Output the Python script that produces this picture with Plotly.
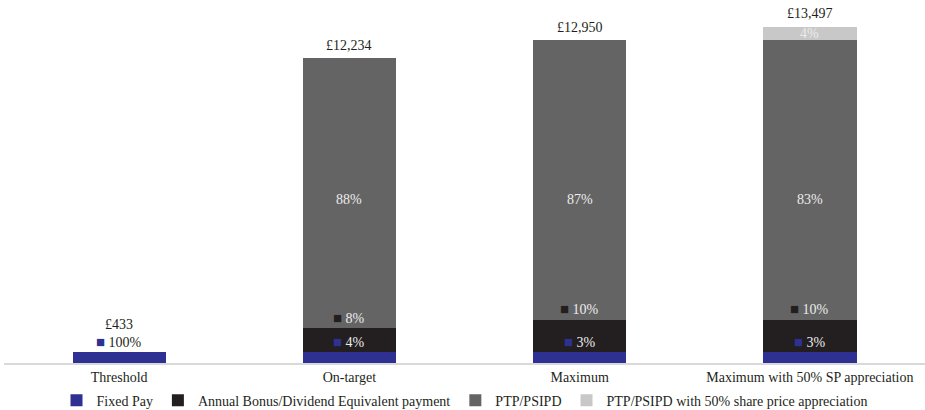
import plotly.graph_objects as go

categories = ["Threshold", "On-target", "Maximum", "Maximum with 50% SP appreciation"]
fixed_pay = [433, 433, 433, 433]
annual_bonus = [0, 979, 1295, 1295]
ptp = [0, 10822, 11222, 11222]
ptp_share = [0, 0, 0, 547]
totals = ["£433", "£12,234", "£12,950", "£13,497"]

fixed_pct = ["100%", "4%", "3%", "3%"]
bonus_pct = [None, "8%", "10%", "10%"]
ptp_pct = [None, "88%", "87%", "83%"]
share_pct = [None, None, None, "4%"]

series_names = ["Fixed Pay", "Annual Bonus/Dividend Equivalent payment", "PTP/PSIPD",
                "PTP/PSIPD with 50% share price appreciation"]
colors = ["#2e3192", "#231f20", "#646464", "#c8c8c8"]
FONT = "Liberation Serif"

fig = go.Figure()
for name, vals, col in zip(series_names, [fixed_pay, annual_bonus, ptp, ptp_share], colors):
    fig.add_trace(go.Bar(x=categories, y=vals, name=name, marker_color=col,
                         marker_line_width=0, width=0.405))

LIGHT = "#ececec"
ann = []
def sq(col):
    return f"<span style='color:{col};font-size:15px'>■</span> "

for i, c in enumerate(categories):
    tot_val = fixed_pay[i] + annual_bonus[i] + ptp[i] + ptp_share[i]
    base_bonus = fixed_pay[i]
    base_ptp = fixed_pay[i] + annual_bonus[i]
    ann.append(dict(x=c, y=base_bonus, yshift=10, text=sq(colors[0]) + fixed_pct[i],
                    font=dict(color="#231f20" if i == 0 else LIGHT, size=14)))
    if bonus_pct[i]:
        ann.append(dict(x=c, y=base_ptp, yshift=10 if i == 1 else 11,
                        text=sq(colors[1]) + bonus_pct[i], font=dict(color=LIGHT, size=14)))
    if ptp_pct[i]:
        ann.append(dict(x=c, y=6540, text=ptp_pct[i], font=dict(color=LIGHT, size=14)))
    if share_pct[i]:
        ann.append(dict(x=c, y=base_ptp + ptp[i] + ptp_share[i] / 2, text=share_pct[i],
                        font=dict(color=LIGHT, size=14)))
    ann.append(dict(x=c, y=tot_val, yshift=28 if i == 0 else 13, text=totals[i],
                    font=dict(color="#231f20", size=14)))

for a in ann:
    a.update(xref="x", yref="y", showarrow=False, yanchor="middle")
    a["font"]["family"] = FONT

fig.update_layout(
    barmode="stack",
    width=925, height=410,
    margin=dict(l=4, r=0, t=14, b=47, autoexpand=False),
    paper_bgcolor="white", plot_bgcolor="white",
    font=dict(family=FONT, size=14, color="#231f20"),
    annotations=ann,
    showlegend=True,
    legend=dict(orientation="h", x=0.5, xanchor="center", y=-0.062, yanchor="top",
                font=dict(size=14, family=FONT), itemwidth=30, tracegroupgap=0,
                traceorder="normal"),
    xaxis=dict(showline=True, linecolor="#d9d9d9", linewidth=2, ticks="",
               tickfont=dict(size=14, family=FONT), showgrid=False),
    yaxis=dict(range=[0, 14000], visible=False, showgrid=False),
)
fig.write_html("out.html")
